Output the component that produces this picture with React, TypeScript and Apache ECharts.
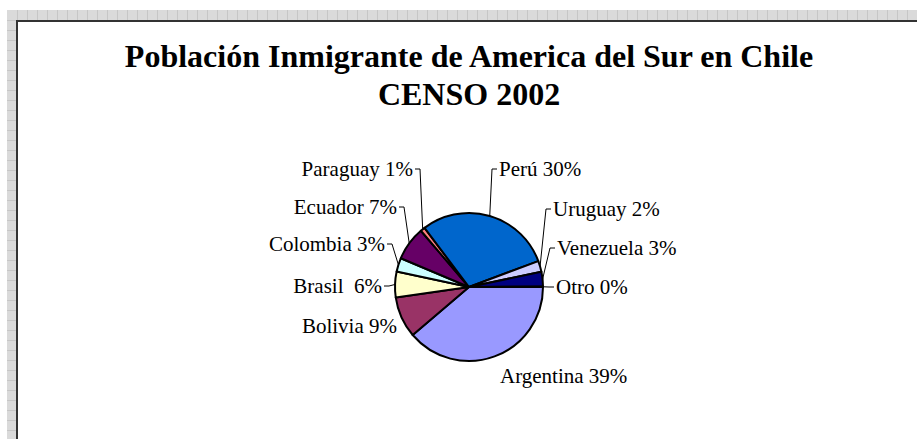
import React, { useEffect, useRef } from "react";
import * as echarts from "echarts";

// ---- data ----
const categories = ["Argentina", "Bolivia", "Brasil ", "Colombia", "Ecuador", "Paraguay", "Perú", "Uruguay", "Venezuela", "Otro"];
const values = [38.8, 9.0, 5.6, 3.0, 7.4, 1.0, 29.6, 2.4, 3.2, 0.1];
const colors = ["#9999FF", "#993366", "#FFFFCC", "#CCFFFF", "#660066", "#FF8080", "#0066CC", "#CCCCFF", "#000080", "#FF00FF"];
const titleLines = ["Población Inmigrante de America del Sur en Chile", "CENSO 2002"];

// ---- layout / style (not data) ----
const W = 917;
const H = 439;
const CX = 469;
const CY = 287;
const R = 74;
// label placement relative to pie centre: [dx, dy, align, showLeaderLine]
const labelPlacement: [number, number, "left" | "right", boolean][] = [
  [31, 89, "left", false],
  [-72, 39, "right", false],
  [-87, -1, "right", true],
  [-84, -43, "right", true],
  [-72, -80, "right", true],
  [-56, -118, "right", true],
  [30, -118, "left", true],
  [84, -78, "left", true],
  [88, -39, "left", true],
  [87, 0, "left", true],
];

const FONT = "'Liberation Serif', 'Times New Roman', serif";

function bandDecor() {
  const els: any[] = [
    { type: "rect", z: -10, shape: { x: 7, y: 10, width: W - 7, height: 10 }, style: { fill: "#dadada" }, silent: true },
    { type: "rect", z: -10, shape: { x: 7, y: 10, width: 10, height: H - 10 }, style: { fill: "#dadada" }, silent: true },
  ];
  for (let x = 17; x < W; x += 10) {
    els.push({ type: "line", z: -9, shape: { x1: x + 0.5, y1: 10, x2: x + 0.5, y2: 20 }, style: { stroke: "#c6c6c6", lineWidth: 1 }, silent: true });
  }
  for (let y = 20; y < H; y += 10) {
    els.push({ type: "line", z: -9, shape: { x1: 7, y1: y + 0.5, x2: 17, y2: y + 0.5 }, style: { stroke: "#c6c6c6", lineWidth: 1 }, silent: true });
  }
  els.push({ type: "line", z: -5, shape: { x1: 16, y1: 21, x2: W, y2: 21 }, style: { stroke: "#333333", lineWidth: 2 }, silent: true });
  els.push({ type: "line", z: -5, shape: { x1: 17, y1: 20, x2: 17, y2: H }, style: { stroke: "#333333", lineWidth: 2 }, silent: true });
  return els;
}

export default function App() {
  const ref = useRef<HTMLDivElement>(null);
  useEffect(() => {
    document.body.style.margin = "0";
    if (!ref.current) return;
    const chart = echarts.init(ref.current, null, { renderer: "svg" });
    const total = values.reduce((a, b) => a + b, 0);
    chart.setOption({
      animation: false,
      backgroundColor: "#ffffff",
      graphic: [
        ...bandDecor(),
        {
          type: "text",
          x: CX,
          y: 56,
          style: { text: titleLines[0], align: "center", verticalAlign: "middle", font: `bold 32px ${FONT}`, fill: "#000" },
          silent: true,
        },
        {
          type: "text",
          x: CX,
          y: 94,
          style: { text: titleLines[1], align: "center", verticalAlign: "middle", font: `bold 32px ${FONT}`, fill: "#000" },
          silent: true,
        },
      ],
      series: [
        {
          type: "pie",
          center: [CX, CY],
          radius: R,
          startAngle: 0,
          clockwise: true,
          avoidLabelOverlap: false,
          silent: true,
          itemStyle: { borderColor: "#000000", borderWidth: 2 },
          label: {
            show: true,
            position: "outside",
            fontFamily: FONT,
            fontSize: 21,
            color: "#000000",
            formatter: (p: any) => `${p.name} ${Math.round((p.value / total) * 100)}%`,
          },
          labelLine: { show: true, length: 8, length2: 4, lineStyle: { color: "#000000", width: 1 } },
          labelLayout: (params: any) => {
            const i = params.dataIndex;
            const [dx, dy, align, showLine] = labelPlacement[i];
            const x = CX + dx;
            const y = CY + dy;
            const res: any = { x, y, align, verticalAlign: "middle" };
            const pts = params.labelLinePoints;
            if (pts && showLine) {
              const dir = align === "left" ? -1 : 1;
              res.labelLinePoints = [pts[0], [x + dir * 7, y], [x + dir * 2, y]];
            }
            return res;
          },
          data: categories.map((name, i) => ({
            name,
            value: values[i],
            itemStyle: { color: colors[i] },
            labelLine: { show: labelPlacement[i][3] },
          })),
        },
      ],
    });
    return () => chart.dispose();
  }, []);
  return <div ref={ref} style={{ width: W, height: H }} />;
}
